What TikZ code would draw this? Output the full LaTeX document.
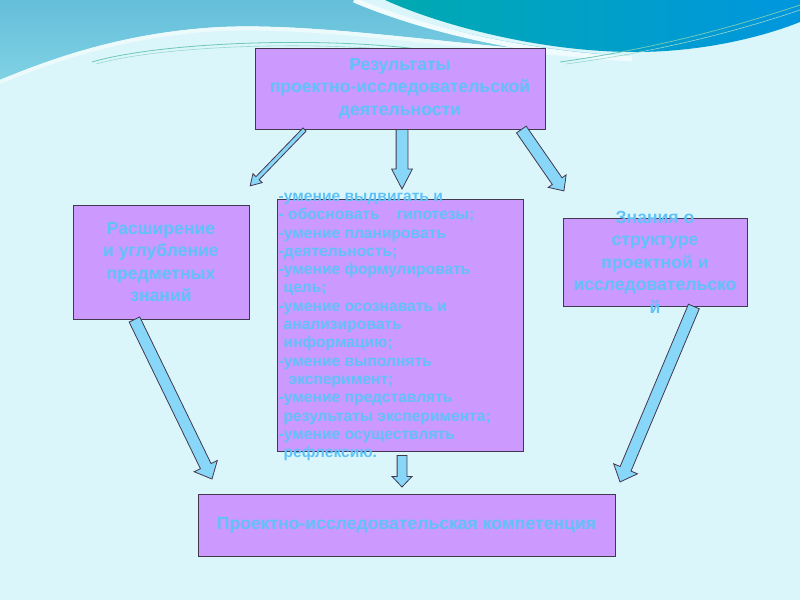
\documentclass[tikz,border=0pt]{standalone}
\usepackage{fontspec}
\setmainfont{Liberation Sans}
\usetikzlibrary{shapes.arrows,calc,positioning}
\definecolor{lilac}{RGB}{204,153,255}
\definecolor{frame}{RGB}{66,56,80}
\definecolor{sky}{RGB}{136,214,248}
\definecolor{skytext}{RGB}{96,194,248}
\definecolor{pale}{RGB}{218,246,250}
\definecolor{lagoonA}{RGB}{100,190,218}
\definecolor{lagoonB}{RGB}{128,210,228}
\definecolor{tealA}{RGB}{0,170,176}
\definecolor{tealB}{RGB}{0,150,222}
\definecolor{seaweed}{RGB}{110,200,185}
\tikzset{
  panel/.style={draw=frame,fill=lilac,line width=1pt,inner sep=0pt,align=center,
    text=skytext,font=\bfseries\fontsize{17.6}{22.5}\selectfont},
  paneltext/.style={inner sep=0pt,align=center,text=skytext,
    font=\bfseries\fontsize{17.6}{22.5}\selectfont},
  listtext/.style={inner sep=0pt,align=left,text=skytext,
    font=\bfseries\fontsize{15.6}{18.3}\selectfont},
  barrow/.style n args={3}{single arrow,draw=frame,fill=sky,line width=0.8pt,
    inner xsep=0pt,inner ysep=#1,single arrow head extend=#2,
    single arrow tip angle=#3,outer sep=0pt,minimum width=1pt},
}
% block arrow from one point to another
\newcommand{\blockarrow}[3][]{%
  \path let \p1=($(#3)-(#2)$), \n1={veclen(\x1,\y1)}, \n2={atan2(\y1,\x1)} in
    node[barrow={5.5pt}{7pt}{84},#1,minimum height=\n1,rotate=\n2,anchor=tail] at (#2) {};}

\begin{document}
\begin{tikzpicture}[x=1pt,y=-1pt]
  \useasboundingbox (0,0) rectangle (800,600);
  % backdrop
  \fill[pale] (0,0) rectangle (800,600);
  \shade[top color=lagoonA,bottom color=lagoonB]
    (0,0) -- (355,0) .. controls (420,25) and (520,50) .. (630,56)
    .. controls (480,50) and (330,22) .. (220,27)
    .. controls (130,32) and (60,55) .. (0,80) -- cycle;
  \draw[white!50!pale,line width=4pt] (0,82) .. controls (60,57) and (130,34) .. (220,29)
    .. controls (330,24) and (480,52) .. (630,58);
  \draw[white!60!pale,line width=5pt] (354,0) .. controls (420,28) and (520,53) .. (632,59);
  \shade[left color=tealA,right color=tealB]
    (385,0) .. controls (440,25) and (540,52) .. (635,52)
    .. controls (700,52) and (760,38) .. (800,22) -- (800,0) -- cycle;
  \draw[seaweed,line width=0.8pt] (92,62) .. controls (160,42) and (330,35) .. (440,52);
  \draw[seaweed!70!white,line width=0.6pt] (96,64) .. controls (164,45) and (330,39) .. (440,55);
  \draw[seaweed,line width=0.8pt] (560,62) .. controls (660,48) and (740,25) .. (800,5);
  \draw[seaweed!70!white,line width=0.6pt] (566,64) .. controls (664,51) and (744,29) .. (800,10);

  % boxes
  \node[panel,minimum width=290,minimum height=81] (res) at (400,88.5)
    {Результаты\\проектно-исследовательской\\деятельности};
  \node[panel,minimum width=176,minimum height=114] (ext) at (161,262)
    {Расширение\\и углубление\\предметных\\знаний};
  \node[panel,minimum width=246,minimum height=252] (skills) at (400,325) {};
  \node[listtext,anchor=west] (skillstxt) at ($(skills.west)+(2,2)$)
    {-умение выдвигать и\\
     - обосновать\ \ \ \ гипотезы;\\
     -умение планировать\\
     -деятельность;\\
     -умение формулировать\\
     \hspace*{5pt}цель;\\
     -умение осознавать и\\
     \hspace*{5pt}анализировать\\
     \hspace*{5pt}информацию;\\
     -умение выполнять\\
     \hspace*{10pt}эксперимент;\\
     -умение представлять\\
     \hspace*{5pt}результаты эксперимента;\\
     -умение осуществлять\\
     \hspace*{5pt}рефлексию.};
  \node[panel,minimum width=184,minimum height=88] (know) at (655,262) {};
  \node[paneltext] (knowtxt) at (know.center)
    {Знания о\\структуре\\проектной и\\исследовательско\\й};
  \node[panel,minimum width=417,minimum height=62] (comp) at (406.5,525.5)
    {Проектно-исследовательская компетенция};

  % arrow ends
  \coordinate (a1) at ($(res.south west)!0.172!(res.south east)$);
  \coordinate (a2) at ($(res.south)+(2,0)$);
  \coordinate (a3) at ($(res.south west)!0.917!(res.south east)$);
  \coordinate (a4) at ($(ext.south west)!0.35!(ext.south east)$);
  \coordinate (a5) at ($(know.south west)!0.71!(know.south east)$);
  \coordinate (a6) at ($(skills.south)+(2,4)$);
  \coordinate (t1) at (250,186);
  \coordinate (t2) at (402,189);
  \coordinate (t3) at (564,191);
  \coordinate (t4) at (212,479);
  \coordinate (t5) at (620,482);
  \coordinate (t6) at (402,487);

  % arrows
  \blockarrow[barrow={1.8pt}{4.2pt}{62}]{a1}{t1}
  \blockarrow[barrow={5.5pt}{4.5pt}{55}]{a2}{t2}
  \blockarrow[barrow={5.5pt}{5pt}{85}]{a3}{t3}
  \blockarrow{a4}{t4}
  \blockarrow{a5}{t5}
  \blockarrow[barrow={4.5pt}{5pt}{87}]{a6}{t6}
\end{tikzpicture}
\end{document}
